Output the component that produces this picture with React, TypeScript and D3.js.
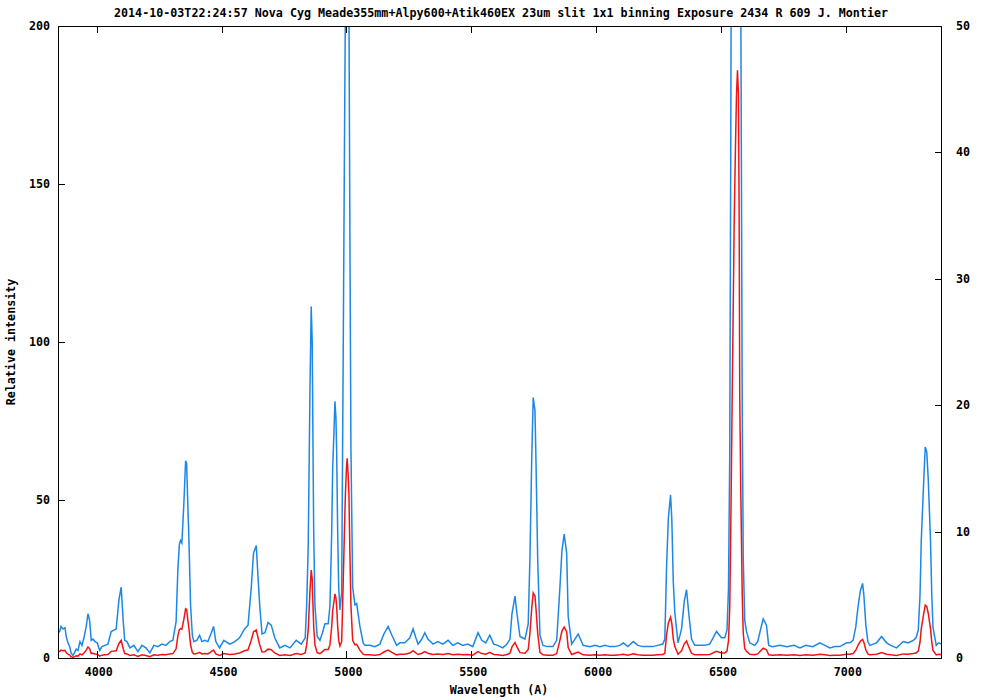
import React from "react";
import * as d3 from "d3";

const title =
  "2014-10-03T22:24:57 Nova Cyg Meade355mm+Alpy600+Atik460EX 23um slit 1x1 binning Exposure 2434 R 609 J. Montier";
const xLabel = "Wavelength (A)";
const yLabel = "Relative intensity";

const xTicks = [4000, 4500, 5000, 5500, 6000, 6500, 7000];
const yLeftTicks = [0, 50, 100, 150, 200];
const yRightTicks = [0, 10, 20, 30, 40, 50];

// Wavelength (Angstrom) samples
const wavelength = [
  3845, 3852, 3857, 3865, 3873, 3878, 3885, 3892, 3897, 3905, 3913, 3918, 3925, 3933, 3941, 3949,
  3958, 3965, 3969, 3972, 3978, 3985, 3993, 4002, 4012, 4021, 4032, 4045, 4058, 4069, 4078, 4089,
  4098, 4106, 4112, 4121, 4133, 4149, 4165, 4181, 4197, 4213, 4229, 4245, 4261, 4277, 4293, 4305,
  4318, 4325, 4331, 4336, 4341, 4349, 4356, 4360, 4365, 4369, 4376, 4383, 4389, 4401, 4412, 4421,
  4433, 4445, 4459, 4468, 4477, 4492, 4509, 4533, 4553, 4572, 4592, 4606, 4619, 4628, 4639, 4646,
  4653, 4662, 4674, 4686, 4699, 4713, 4733, 4754, 4774, 4799, 4819, 4835, 4841, 4847, 4854, 4859,
  4863, 4866, 4869, 4874, 4883, 4894, 4904, 4914, 4927, 4934, 4941, 4945, 4950, 4954, 4958, 4961,
  4965, 4969, 4974, 4981, 4987, 4992, 4996, 5000, 5003, 5007, 5010, 5014, 5018, 5025, 5034, 5041,
  5054, 5067, 5074, 5094, 5114, 5134, 5150, 5167, 5182, 5201, 5214, 5234, 5254, 5267, 5278, 5287,
  5302, 5314, 5326, 5347, 5366, 5386, 5407, 5426, 5446, 5466, 5486, 5506, 5527, 5542, 5558, 5574,
  5590, 5606, 5626, 5643, 5655, 5663, 5675, 5683, 5695, 5715, 5728, 5735, 5742, 5748, 5755, 5759,
  5766, 5775, 5787, 5807, 5827, 5842, 5855, 5863, 5872, 5882, 5888, 5902, 5915, 5928, 5948, 5975,
  5995, 6015, 6035, 6055, 6075, 6095, 6109, 6127, 6149, 6167, 6187, 6207, 6227, 6247, 6267, 6275,
  6282, 6289, 6298, 6303, 6309, 6315, 6328, 6342, 6353, 6362, 6371, 6382, 6395, 6415, 6435, 6455,
  6482, 6502, 6515, 6524, 6530, 6535, 6539, 6545, 6553, 6558, 6562, 6566, 6570, 6573, 6575, 6579,
  6585, 6589, 6595, 6602, 6615, 6635, 6647, 6659, 6669, 6682, 6691, 6707, 6736, 6764, 6792, 6816,
  6840, 6868, 6896, 6916, 6936, 6956, 6976, 7003, 7016, 7029, 7040, 7049, 7058, 7067, 7072, 7080,
  7088, 7096, 7123, 7143, 7163, 7180, 7203, 7230, 7249, 7270, 7281, 7290, 7297, 7302, 7312, 7318,
  7324, 7330, 7339, 7344, 7349, 7362, 7372, 7384,
];

// Relative intensity at each wavelength
const intensity = [
  2.0, 2.1, 2.5, 2.3, 2.4, 1.7, 1.2, 0.9, 0.4, 0.2, 0.5, 0.7, 0.6, 1.3, 1.0, 1.6,
  2.5, 3.5, 3.2, 2.9, 1.4, 1.5, 1.3, 1.2, 0.6, 0.9, 1.0, 1.1, 2.1, 2.2, 2.3, 4.6,
  5.6, 3.0, 1.4, 1.3, 0.8, 1.0, 0.5, 1.0, 0.8, 0.4, 1.0, 0.9, 1.1, 1.0, 1.3, 1.4,
  2.9, 7.0, 9.0, 9.3, 9.1, 12.2, 15.6, 15.4, 12.0, 9.6, 4.1, 1.8, 1.3, 1.4, 1.8, 1.3,
  1.4, 1.3, 2.0, 2.5, 1.3, 0.8, 1.4, 1.1, 1.3, 1.6, 2.3, 2.6, 5.6, 8.3, 8.9, 6.4,
  4.1, 1.9, 2.0, 2.8, 2.6, 1.6, 0.8, 1.0, 0.8, 1.4, 1.1, 1.6, 4.3, 8.8, 21.2, 27.8,
  25.0, 17.0, 9.9, 4.1, 1.7, 1.4, 2.0, 2.7, 2.7, 4.1, 9.9, 15.1, 17.8, 20.3, 19.0, 16.2,
  9.9, 5.6, 3.8, 5.2, 23.7, 40.0, 52.0, 60.0, 63.2, 58.0, 52.0, 33.0, 16.7, 5.6, 4.2, 4.3,
  2.5, 1.2, 1.0, 1.0, 0.9, 1.1, 1.9, 2.5, 1.8, 1.0, 1.2, 1.2, 1.6, 2.3, 1.6, 1.1,
  1.5, 2.0, 1.5, 1.1, 1.3, 1.1, 1.4, 1.0, 1.2, 1.0, 1.1, 0.9, 2.0, 1.4, 1.2, 1.8,
  1.1, 1.0, 0.8, 1.1, 1.5, 3.5, 4.9, 3.5, 1.7, 1.5, 2.7, 8.0, 15.7, 20.6, 19.6, 15.7,
  7.8, 1.8, 1.0, 0.9, 0.9, 1.4, 5.6, 8.5, 9.8, 8.3, 3.3, 1.1, 1.5, 1.9, 1.0, 0.9,
  1.0, 0.9, 1.0, 0.9, 0.9, 1.0, 1.2, 0.9, 1.3, 1.0, 0.9, 0.9, 0.9, 1.0, 1.1, 1.5,
  7.2, 11.0, 12.9, 11.0, 6.0, 3.6, 1.2, 2.3, 4.5, 5.4, 3.5, 1.5, 1.0, 1.0, 1.0, 1.1,
  2.1, 1.6, 1.6, 2.2, 5.5, 16.0, 40.0, 84.0, 139.0, 162.0, 178.0, 186.0, 178.0, 134.0, 83.0, 54.0,
  20.0, 8.0, 3.0, 2.1, 1.2, 1.0, 1.3, 2.3, 3.1, 2.6, 1.0, 0.9, 1.0, 0.9, 1.0, 0.8,
  1.0, 0.9, 1.2, 1.0, 0.8, 0.9, 0.9, 1.2, 1.2, 1.4, 2.5, 4.1, 5.3, 5.9, 5.0, 2.6,
  1.3, 1.0, 1.2, 1.7, 1.2, 1.0, 0.8, 1.3, 1.2, 1.4, 1.6, 2.2, 5.0, 9.3, 14.1, 16.7,
  16.3, 14.1, 9.3, 5.0, 2.4, 1.0, 1.2, 1.1,
];

const W = 1000;
const H = 700;
const M = { left: 58, right: 942, top: 26, bottom: 658 };
const FONT = "'DejaVu Sans Mono', 'Liberation Mono', monospace";

export default function App() {
  const x = d3.scaleLinear().domain([3845, 7385]).range([M.left, M.right]);
  const yL = d3.scaleLinear().domain([0, 200]).range([M.bottom, M.top]);
  const yR = d3.scaleLinear().domain([0, 50]).range([M.bottom, M.top]);

  const pts = wavelength.map((w, i) => [w, intensity[i]] as [number, number]);
  const lineL = d3
    .line<[number, number]>()
    .x((d) => x(d[0]))
    .y((d) => yL(d[1]));
  const lineR = d3
    .line<[number, number]>()
    .x((d) => x(d[0]))
    .y((d) => yR(d[1]));

  const tickLen = 7;
  const fs = 11.7;

  return (
    <svg
      width={W}
      height={H}
      style={{ position: "absolute", left: 0, top: 0, background: "#fff" }}
    >
      <rect x={0} y={0} width={W} height={H} fill="#fff" />
      <defs>
        <clipPath id="plot">
          <rect x={M.left} y={M.top} width={M.right - M.left} height={M.bottom - M.top} />
        </clipPath>
      </defs>

      <g clipPath="url(#plot)">
        <path d={lineR(pts) || ""} fill="none" stroke="#1c87e6" strokeWidth={1.5} strokeLinejoin="miter" />
        <path d={lineL(pts) || ""} fill="none" stroke="#f01414" strokeWidth={1.5} strokeLinejoin="miter" />
      </g>

      {/* frame */}
      <rect
        x={M.left + 0.5}
        y={M.top + 0.5}
        width={M.right - M.left - 1}
        height={M.bottom - M.top}
        fill="none"
        stroke="#000"
        strokeWidth={1}
      />

      {/* x ticks */}
      {xTicks.map((t) => {
        const px = Math.round(x(t)) + 0.5;
        return (
          <g key={"x" + t}>
            <line x1={px} x2={px} y1={M.bottom} y2={M.bottom - tickLen} stroke="#000" />
            <line x1={px} x2={px} y1={M.top} y2={M.top + tickLen} stroke="#000" />
            <text
              x={x(t) + 2}
              y={M.bottom + 18}
              textAnchor="middle"
              fontFamily={FONT}
              fontWeight="bold"
              fontSize={fs}
            >
              {t}
            </text>
          </g>
        );
      })}

      {/* left ticks */}
      {yLeftTicks.map((t) => {
        const py = Math.round(yL(t)) + 0.5;
        return (
          <g key={"l" + t}>
            {t > 0 && t < 200 && (
              <line x1={M.left} x2={M.left + tickLen} y1={py} y2={py} stroke="#000" />
            )}
            <text
              x={M.left - 8}
              y={yL(t) + 4}
              textAnchor="end"
              fontFamily={FONT}
              fontWeight="bold"
              fontSize={fs}
            >
              {t}
            </text>
          </g>
        );
      })}

      {/* right ticks */}
      {yRightTicks.map((t) => {
        const py = Math.round(yR(t)) + 0.5;
        return (
          <g key={"r" + t}>
            {t > 0 && t < 50 && (
              <line x1={M.right - tickLen} x2={M.right} y1={py} y2={py} stroke="#000" />
            )}
            <text
              x={M.right + 14}
              y={yR(t) + 4}
              textAnchor="start"
              fontFamily={FONT}
              fontWeight="bold"
              fontSize={fs}
            >
              {t}
            </text>
          </g>
        );
      })}

      {/* title */}
      <text
        x={501}
        y={17}
        textAnchor="middle"
        fontFamily={FONT}
        fontWeight="bold"
        fontSize={fs}
      >
        {title}
      </text>

      {/* axis labels */}
      <text
        x={499}
        y={694}
        textAnchor="middle"
        fontFamily={FONT}
        fontWeight="bold"
        fontSize={fs}
      >
        {xLabel}
      </text>
      <text
        transform={`translate(15, ${(M.top + M.bottom) / 2}) rotate(-90)`}
        textAnchor="middle"
        fontFamily={FONT}
        fontWeight="bold"
        fontSize={fs}
      >
        {yLabel}
      </text>
    </svg>
  );
}
